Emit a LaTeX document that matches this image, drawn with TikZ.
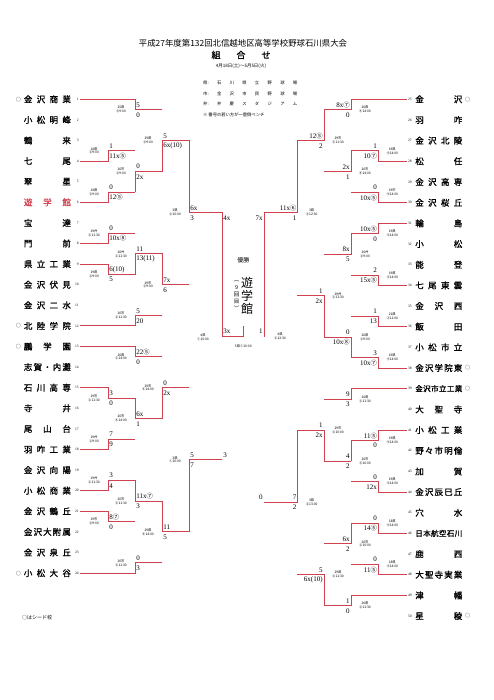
\documentclass[tikz,border=0pt]{standalone}
\usepackage{fontspec}
\setmainfont{Liberation Serif}
\newfontfamily\jp{Noto Sans CJK JP}
\newfontfamily\jpb{Noto Sans CJK JP}[FakeBold=1.2]
\definecolor{wred}{HTML}{D2414F}
\definecolor{lgr}{HTML}{AAAAAA}
\pgfdeclarelayer{bg}
\pgfsetlayers{bg,main}
\tikzset{
  W/.style={draw=wred,line width=0.9pt,line cap=rect},
  Lo/.style={draw=lgr,line width=0.8pt,line cap=rect},
  team/.style={inner sep=0pt,font=\jpb\fontsize{8.5}{8.5}\selectfont},
  num/.style={inner sep=0pt,font=\fontsize{3.6}{3.6}\selectfont},
  seed/.style={inner sep=0pt,font=\jp\fontsize{5}{5}\selectfont},
  sc/.style={inner sep=0pt,font=\fontsize{7}{7}\selectfont},
  tm/.style={inner sep=0pt,font=\jp\fontsize{3.3}{3.9}\selectfont,align=center},
  hd/.style={inner sep=0pt,font=\jp\fontsize{4.3}{4.3}\selectfont,anchor=west},
}
\def\styLo{Lo}
\newcommand\bseg[5]{\def\tmpa{#1}\ifx\tmpa\styLo
  \begin{pgfonlayer}{bg}\draw[Lo] (#2,#3) -- (#4,#5);\end{pgfonlayer}%
  \else\draw[W] (#2,#3) -- (#4,#5);\fi}
\newcommand\bent[6]{\bseg{#1}{#3}{#4}{#5}{#4}\bseg{#2}{#5}{#4}{#5}{#6}}
\newcommand\bcn[1]{{\jp\fontsize{6.3}{6.3}\selectfont #1}}
\newcommand\bnm[1]{\makebox[47pt][s]{#1}}
\newcommand\smn{\fontsize{7.5}{7.5}\selectfont}
% left game labels: id, xj, yO, upper score, lower score, line1, line2
\newcommand\lgm[7]{%
  \node[sc,anchor=west] (#1a) at (#2+1.2,#3-4.7) {#4};
  \node[sc,anchor=west] (#1b) at (#2+1.2,#3+5.3) {#5};
  \node[tm] (#1t) at (#2-14,#3) {#6\\#7};}
\newcommand\rgm[7]{%
  \node[sc,anchor=east] (#1a) at (#2-1.2,#3-4.7) {#4};
  \node[sc,anchor=east] (#1b) at (#2-1.2,#3+5.3) {#5};
  \node[tm] (#1t) at (#2+14,#3) {#6\\#7};}
\newcommand\lteam[4]{% id, y, name, seed
  \node[team] (t#1) at (47.4,#2) {\bnm{#3}};
  \node[num,anchor=east] (n#1) at (78.8,#2) {#1};
  \if#4o\node[seed] (o#1) at (18.3,#2) {○};\fi}
\newcommand\rteam[4]{%
  \node[team] (t#1) at (438.8,#2) {\bnm{#3}};
  \node[num,anchor=west] (n#1) at (407.8,#2) {#1};
  \if#4o\node[seed] (o#1) at (467.5,#2) {○};\fi}
\begin{document}
\begin{tikzpicture}[x=1pt,y=-1pt]
\useasboundingbox (0,0) rectangle (494,700);
\fill[white] (0,0) rectangle (494,700);
% ---------- header ----------
\node[inner sep=0pt,font=\jp\fontsize{8.4}{8.4}\selectfont] (title) at (243,43) {平成27年度第132回北信越地区高等学校野球石川県大会};
\node[inner sep=0pt,font=\jpb\fontsize{9}{9}\selectfont] (kumi) at (241,55) {組\hspace{16pt}合\hspace{16pt}せ};
\node[inner sep=0pt,font=\jp\fontsize{4.5}{4.5}\selectfont] (date) at (241,66.5) {4月18日(土)～5月5日(火)};
\node[hd] (v1) at (203,83) {\makebox[94pt][s]{県:\hfill 石\hfill 川\hfill 県\hfill 立\hfill 野\hfill 球\hfill 場}};
\node[hd] (v2) at (203,93.5) {\makebox[94pt][s]{市:\hfill 金\hfill 沢\hfill 市\hfill 民\hfill 野\hfill 球\hfill 場}};
\node[hd] (v3) at (203,104) {\makebox[94pt][s]{弁:\hfill 弁\hfill 慶\hfill ス\hfill タ\hfill ジ\hfill ア\hfill ム}};
\node[hd] (v4) at (203,114.5) {※ 番号の若い方が一塁側ベンチ};
\node[inner sep=0pt,font=\jp\fontsize{5}{5}\selectfont,anchor=west] (foot) at (22,618) {○はシード校};
% ---------- teams left ----------
\lteam{1}{99.3}{金\hfill 沢\hfill 商\hfill 業}{o}
\lteam{2}{119.9}{小\hfill 松\hfill 明\hfill 峰}{x}
\lteam{3}{140.5}{鶴\hfill 来}{x}
\lteam{4}{161.1}{七\hfill 尾}{x}
\lteam{5}{181.7}{翠\hfill 星}{x}
\lteam{6}{202.3}{\color{wred}遊\hfill 学\hfill 館}{x}
\lteam{7}{222.9}{宝\hfill 達}{x}
\lteam{8}{243.5}{門\hfill 前}{x}
\lteam{9}{264.1}{県\hfill 立\hfill 工\hfill 業}{x}
\lteam{10}{284.7}{金\hfill 沢\hfill 伏\hfill 見}{x}
\lteam{11}{305.3}{金\hfill 沢\hfill 二\hfill 水}{x}
\lteam{12}{325.9}{北\hfill 陸\hfill 学\hfill 院}{o}
\lteam{13}{346.5}{鵬\hfill 学\hfill 園}{o}
\lteam{14}{367.1}{志\hfill 賀\hfill ・\hfill 内\hfill 灘}{x}
\lteam{15}{387.7}{石\hfill 川\hfill 高\hfill 専}{x}
\lteam{16}{408.3}{寺\hfill 井}{x}
\lteam{17}{428.9}{尾\hfill 山\hfill 台}{x}
\lteam{18}{449.5}{羽\hfill 咋\hfill 工\hfill 業}{x}
\lteam{19}{470.1}{金\hfill 沢\hfill 向\hfill 陽}{x}
\lteam{20}{490.7}{小\hfill 松\hfill 商\hfill 業}{x}
\lteam{21}{511.3}{金\hfill 沢\hfill 鶴\hfill 丘}{x}
\lteam{22}{531.9}{金\hfill 沢\hfill 大\hfill 附\hfill 属}{x}
\lteam{23}{552.5}{金\hfill 沢\hfill 泉\hfill 丘}{x}
\lteam{24}{573.1}{小\hfill 松\hfill 大\hfill 谷}{o}
% ---------- teams right ----------
\rteam{25}{99.3}{金\hfill 沢}{o}
\rteam{26}{120.0}{羽\hfill 咋}{x}
\rteam{27}{140.6}{金\hfill 沢\hfill 北\hfill 陵}{x}
\rteam{28}{161.3}{松\hfill 任}{x}
\rteam{29}{182.0}{金\hfill 沢\hfill 高\hfill 専}{x}
\rteam{30}{202.7}{金\hfill 沢\hfill 桜\hfill 丘}{x}
\rteam{31}{223.3}{輪\hfill 島}{x}
\rteam{32}{244.0}{小\hfill 松}{x}
\rteam{33}{264.7}{能\hfill 登}{x}
\rteam{34}{285.4}{七\hfill 尾\hfill 東\hfill 雲}{x}
\rteam{35}{306.0}{金\hfill 沢\hfill 西}{x}
\rteam{36}{326.7}{飯\hfill 田}{x}
\rteam{37}{347.3}{小\hfill 松\hfill 市\hfill 立}{x}
\rteam{38}{368.0}{金\hfill 沢\hfill 学\hfill 院\hfill 東}{o}
\rteam{39}{388.7}{\smn 金\hfill 沢\hfill 市\hfill 立\hfill 工\hfill 業}{o}
\rteam{40}{409.4}{大\hfill 聖\hfill 寺}{x}
\rteam{41}{430.0}{小\hfill 松\hfill 工\hfill 業}{x}
\rteam{42}{450.7}{野\hfill 々\hfill 市\hfill 明\hfill 倫}{x}
\rteam{43}{471.4}{加\hfill 賀}{x}
\rteam{44}{492.0}{金\hfill 沢\hfill 辰\hfill 巳\hfill 丘}{x}
\rteam{45}{512.7}{穴\hfill 水}{x}
\rteam{46}{533.4}{\smn 日\hfill 本\hfill 航\hfill 空\hfill 石\hfill 川}{x}
\rteam{47}{554.0}{鹿\hfill 西}{x}
\rteam{48}{574.7}{大\hfill 聖\hfill 寺\hfill 実\hfill 業}{x}
\rteam{49}{595.4}{津\hfill 幡}{x}
\rteam{50}{616.0}{星\hfill 稜}{o}
% ---------- left bracket ----------
\bent{Lo}{Lo}{80}{140.5}{108}{150.8}
\bent{W}{W}{80}{161.1}{108}{150.8}
\bent{Lo}{Lo}{80}{181.7}{108}{192.0}
\bent{W}{W}{80}{202.3}{108}{192.0}
\bent{W}{W}{80}{99.3}{135}{109.6}
\bent{Lo}{Lo}{80}{119.9}{135}{109.6}
\bent{W}{Lo}{108}{150.8}{135}{171.4}
\bent{W}{W}{108}{192.0}{135}{171.4}
\bent{W}{Lo}{135}{109.6}{162}{140.5}
\bent{W}{W}{135}{171.4}{162}{140.5}
\bent{Lo}{Lo}{80}{222.9}{108}{233.2}
\bent{W}{W}{80}{243.5}{108}{233.2}
\bent{W}{W}{80}{264.1}{108}{274.4}
\bent{Lo}{Lo}{80}{284.7}{108}{274.4}
\bent{W}{Lo}{108}{233.2}{135}{253.8}
\bent{W}{W}{108}{274.4}{135}{253.8}
\bent{Lo}{Lo}{80}{305.3}{135}{315.6}
\bent{W}{W}{80}{325.9}{135}{315.6}
\bent{W}{W}{135}{253.8}{162}{284.7}
\bent{W}{Lo}{135}{315.6}{162}{284.7}
\bent{W}{W}{162}{140.5}{189}{212.6}
\bent{W}{Lo}{162}{284.7}{189}{212.6}
\bent{W}{W}{80}{346.5}{135}{356.8}
\bent{Lo}{Lo}{80}{367.1}{135}{356.8}
\bent{W}{W}{80}{387.7}{108}{398.0}
\bent{Lo}{Lo}{80}{408.3}{108}{398.0}
\bent{Lo}{Lo}{80}{428.9}{108}{439.2}
\bent{W}{W}{80}{449.5}{108}{439.2}
\bent{W}{W}{108}{398.0}{135}{418.6}
\bent{W}{Lo}{108}{439.2}{135}{418.6}
\bent{W}{Lo}{135}{356.8}{162}{387.7}
\bent{W}{W}{135}{418.6}{162}{387.7}
\bent{Lo}{Lo}{80}{470.1}{108}{480.4}
\bent{W}{W}{80}{490.7}{108}{480.4}
\bent{W}{W}{80}{511.3}{108}{521.6}
\bent{Lo}{Lo}{80}{531.9}{108}{521.6}
\bent{W}{W}{108}{480.4}{135}{501.0}
\bent{W}{Lo}{108}{521.6}{135}{501.0}
\bent{Lo}{Lo}{80}{552.5}{135}{562.8}
\bent{W}{W}{80}{573.1}{135}{562.8}
\bent{W}{W}{135}{501.0}{162}{531.9}
\bent{W}{Lo}{135}{562.8}{162}{531.9}
\bent{W}{Lo}{162}{387.7}{189}{459.8}
\bent{W}{W}{162}{531.9}{189}{459.8}
\bent{W}{W}{189}{212.6}{222}{336.2}
\bent{W}{Lo}{189}{459.8}{222}{336.2}
% ---------- right bracket ----------
\bent{W}{W}{406.7}{99.3}{351}{109.65}
\bent{Lo}{Lo}{406.7}{120.0}{351}{109.65}
\bent{Lo}{Lo}{406.7}{140.6}{378.3}{150.95}
\bent{W}{W}{406.7}{161.3}{378.3}{150.95}
\bent{Lo}{Lo}{406.7}{182.0}{378.3}{192.35}
\bent{W}{W}{406.7}{202.7}{378.3}{192.35}
\bent{W}{W}{378.3}{150.95}{351}{171.65}
\bent{W}{Lo}{378.3}{192.35}{351}{171.65}
\bent{W}{W}{351}{109.65}{324}{140.65}
\bent{W}{Lo}{351}{171.65}{324}{140.65}
\bent{W}{W}{406.7}{223.3}{378.3}{233.65}
\bent{Lo}{Lo}{406.7}{244.0}{378.3}{233.65}
\bent{Lo}{Lo}{406.7}{264.7}{378.3}{275.05}
\bent{W}{W}{406.7}{285.4}{378.3}{275.05}
\bent{W}{W}{378.3}{233.65}{351}{254.35}
\bent{W}{Lo}{378.3}{275.05}{351}{254.35}
\bent{Lo}{Lo}{406.7}{306.0}{378.3}{316.35}
\bent{W}{W}{406.7}{326.7}{378.3}{316.35}
\bent{Lo}{Lo}{406.7}{347.3}{378.3}{357.65}
\bent{W}{W}{406.7}{368.0}{378.3}{357.65}
\bent{W}{Lo}{378.3}{316.35}{351}{337.0}
\bent{W}{W}{378.3}{357.65}{351}{337.0}
\bent{W}{Lo}{351}{254.35}{324}{295.7}
\bent{W}{W}{351}{337.0}{324}{295.7}
\bent{W}{W}{324}{140.65}{297.7}{212.6}
\bent{W}{Lo}{324}{295.7}{297.7}{212.6}
\bent{W}{W}{406.7}{388.7}{351}{399.05}
\bent{Lo}{Lo}{406.7}{409.4}{351}{399.05}
\bent{W}{W}{406.7}{430.0}{378.3}{440.35}
\bent{Lo}{Lo}{406.7}{450.7}{378.3}{440.35}
\bent{Lo}{Lo}{406.7}{471.4}{378.3}{481.7}
\bent{W}{W}{406.7}{492.0}{378.3}{481.7}
\bent{W}{W}{378.3}{440.35}{351}{461.0}
\bent{W}{Lo}{378.3}{481.7}{351}{461.0}
\bent{W}{Lo}{351}{399.05}{324}{430.0}
\bent{W}{W}{351}{461.0}{324}{430.0}
\bent{Lo}{Lo}{406.7}{512.7}{378.3}{523.05}
\bent{W}{W}{406.7}{533.4}{378.3}{523.05}
\bent{Lo}{Lo}{406.7}{554.0}{378.3}{564.35}
\bent{W}{W}{406.7}{574.7}{378.3}{564.35}
\bent{W}{W}{378.3}{523.05}{351}{543.7}
\bent{W}{Lo}{378.3}{564.35}{351}{543.7}
\bent{W}{W}{406.7}{595.4}{351}{605.7}
\bent{Lo}{Lo}{406.7}{616.0}{351}{605.7}
\bent{W}{Lo}{351}{543.7}{324}{574.7}
\bent{W}{W}{351}{605.7}{324}{574.7}
\bent{W}{W}{324}{430.0}{297.7}{502.35}
\bent{W}{Lo}{324}{574.7}{297.7}{502.35}
\bent{W}{W}{297.7}{212.6}{264}{336.2}
\bent{W}{Lo}{297.7}{502.35}{264}{336.2}
% ---------- final ----------
\bseg{W}{222}{336.2}{243.3}{336.2}
\bseg{Lo}{264}{336.2}{243.3}{336.2}
\bseg{W}{243.3}{336.2}{243.3}{326.5}
% ---------- left scores ----------
\lgm{g34}{108}{150.8}{1}{11x\bcn{⑤}}{18県}{②9:00}
\lgm{g56}{108}{192.0}{0}{12\bcn{⑤}}{18県}{②9:00}
\lgm{g12}{135}{109.6}{5}{0}{25県}{③9:00}
\lgm{gx}{135}{171.4}{0}{2x}{26市}{②9:00}
\lgm{gA}{162}{140.5}{5}{6x(10)}{29県}{③9:00}
\lgm{g78}{108}{233.2}{0}{10x\bcn{⑧}}{19弁}{②11:30}
\lgm{g910}{108}{274.4}{6(10)}{5}{19県}{②9:00}
\lgm{gy}{135}{253.8}{11}{13(11)}{26弁}{②11:30}
\lgm{g1112}{135}{315.6}{5}{20}{26市}{②11:30}
\lgm{gB}{162}{284.7}{7x}{6}{29市}{②9:00}
\lgm{gAB}{189}{212.6}{6x}{3}{3県}{②10:00}
\lgm{g1314}{135}{356.8}{22\bcn{⑤}}{0}{26県}{③14:00}
\lgm{g1516}{108}{398.0}{3}{0}{19市}{②11:30}
\lgm{g1718}{108}{439.2}{7}{9}{19弁}{②9:00}
\lgm{gz}{135}{418.6}{6x}{1}{26市}{④14:00}
\lgm{gC}{162}{387.7}{0}{2x}{29市}{④14:00}
\lgm{g1920}{108}{480.4}{3}{4}{19弁}{②11:30}
\lgm{g2122}{108}{521.6}{8\bcn{⑦}}{0}{19市}{②9:00}
\lgm{gw}{135}{501.0}{11x\bcn{⑦}}{3}{26市}{③11:30}
\lgm{g2324}{135}{562.8}{0}{3}{26市}{③11:30}
\lgm{gD}{162}{531.9}{11}{5}{29県}{④14:00}
\lgm{gCD}{189}{459.8}{5}{7}{3県}{①10:00}
\node[sc,anchor=west] (sl1) at (223.2,218) {4x};
\node[sc,anchor=west] (sl2) at (223.2,455) {3};
\node[tm] (slt) at (203,337) {4県\\①10:00};
% ---------- right scores ----------
\rgm{g2526}{351}{109.65}{8x\bcn{⑦}}{0}{26県}{④14:00}
\rgm{g2728}{378.3}{150.95}{1}{10\bcn{⑦}}{19県}{④14:00}
\rgm{g2930}{378.3}{192.35}{0}{10x\bcn{⑤}}{19市}{④14:00}
\rgm{gu}{351}{171.65}{2x}{1}{26市}{④14:00}
\rgm{gE}{324}{140.65}{12\bcn{⑤}}{2}{29市}{③11:30}
\rgm{g3132}{378.3}{233.65}{10x\bcn{⑤}}{0}{19県}{④14:00}
\rgm{g3334}{378.3}{275.05}{2}{15x\bcn{⑤}}{19県}{④14:00}
\rgm{gv}{351}{254.35}{8x}{5}{26弁}{②9:00}
\rgm{g3536}{378.3}{316.35}{1}{13}{21県}{②11:00}
\rgm{g3738}{378.3}{357.65}{3}{10x\bcn{⑦}}{19県}{④14:00}
\rgm{gs}{351}{337.0}{0}{10x\bcn{⑧}}{26県}{②9:00}
\rgm{gF}{324}{295.7}{1}{2x}{29弁}{②11:30}
\rgm{gEF}{297.7}{212.6}{11x\bcn{⑥}}{1}{3県}{③12:30}
\rgm{g3940}{351}{399.05}{9}{3}{26県}{②11:30}
\rgm{g4142}{378.3}{440.35}{11\bcn{⑤}}{0}{19県}{④14:00}
\rgm{g4344}{378.3}{481.7}{0}{12x}{19県}{④14:00}
\rgm{gr}{351}{461.0}{4}{2}{26市}{③10:00}
\rgm{gG}{324}{430.0}{1}{2x}{29市}{②10:00}
\rgm{g4546}{378.3}{523.05}{0}{14\bcn{⑤}}{18県}{④14:00}
\rgm{g4748}{378.3}{564.35}{0}{11\bcn{⑤}}{18県}{④14:00}
\rgm{gq}{351}{543.7}{6x}{2}{26市}{②10:00}
\rgm{g4950}{351}{605.7}{1}{0}{26県}{②11:30}
\rgm{gH}{324}{574.7}{5}{6x(10)}{29県}{②11:30}
\rgm{gGH}{297.7}{502.35}{7}{2}{3県}{②13:00}
\node[sc,anchor=east] (sr1) at (262.8,218) {7x};
\node[sc,anchor=east] (sr2) at (262.8,497.5) {0};
\node[tm] (srt) at (280,336) {4県\\②12:30};
% ---------- final labels ----------
\node[sc,anchor=west] (f1) at (223.2,331.5) {3x};
\node[sc,anchor=east] (f2) at (262.8,331.5) {1};
\node[tm] (ft) at (243.3,346.5) {5県①10:00};
\node[inner sep=0pt,font=\jp\fontsize{6}{6}\selectfont] (yusho) at (243.3,260) {優勝};
\node[inner sep=0pt,font=\jp\fontsize{12}{12}\selectfont] (w1) at (247,283.3) {遊};
\node[inner sep=0pt,font=\jp\fontsize{12}{12}\selectfont] (w2) at (247,296.2) {学};
\node[inner sep=0pt,font=\jp\fontsize{12}{12}\selectfont] (w3) at (247,309) {館};
\node[inner sep=0pt,font=\jp\fontsize{5.5}{5.5}\selectfont] (p1) at (236.7,281.5) {︵};
\node[inner sep=0pt,font=\jp\fontsize{5.5}{5.5}\selectfont] (p2) at (236.7,288) {9};
\node[inner sep=0pt,font=\jp\fontsize{5.5}{5.5}\selectfont] (p3) at (236.7,294.8) {回};
\node[inner sep=0pt,font=\jp\fontsize{5.5}{5.5}\selectfont] (p4) at (236.7,301.6) {目};
\node[inner sep=0pt,font=\jp\fontsize{5.5}{5.5}\selectfont] (p5) at (236.7,308.4) {︶};
\end{tikzpicture}
\end{document}
